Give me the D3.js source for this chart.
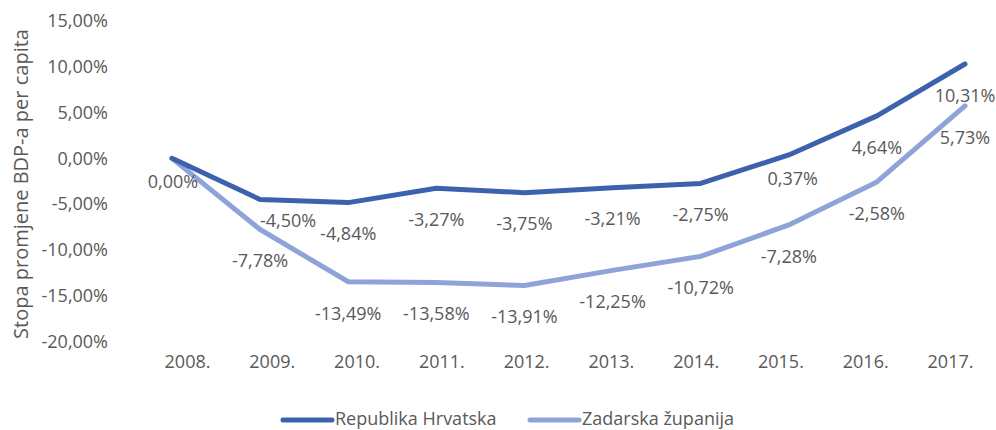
<!DOCTYPE html>
<html>
<head>
<meta charset="utf-8">
<script src="https://cdn.jsdelivr.net/npm/d3@7"></script>
<style>
  body { margin: 0; background: #fff; }
  text { font-family: "Open Sans", sans-serif; fill: #595959; }
</style>
</head>
<body>
<div id="chart"></div>
<script>
// data
const years = ["2008.", "2009.", "2010.", "2011.", "2012.", "2013.", "2014.", "2015.", "2016.", "2017."];
const hrvatska = [0.0, -4.50, -4.84, -3.27, -3.75, -3.21, -2.75, 0.37, 4.64, 10.31];
const zadarska = [0.0, -7.78, -13.49, -13.58, -13.91, -12.25, -10.72, -7.28, -2.58, 5.73];
const yTicks = [-20, -15, -10, -5, 0, 5, 10, 15];
const seriesNames = ["Republika Hrvatska", "Zadarska županija"];

// label nudges (dx, dy) for labels that sit off the default spot
const nudgeHr = [[1, -8], [28, -10], [0, 0], [0, 0], [0, 0], [0, 0], [0, 0], [4, -8], [0, 0], [0, 0]];

const width = 996, height = 430;
const colors = ["#3d62ad", "#8ea3d7"];

const hr = d3.formatLocale({decimal: ",", thousands: ".", grouping: [3], currency: ["", ""], minus: "-"});
const fmt = v => hr.format(".2f")(v) + "%";

let svg = d3.select("#chart").append("svg")
    .attr("width", width)
    .attr("height", height);

let x = d3.scalePoint().domain(years).range([172, 965]);
let xLab = d3.scalePoint().domain(years).range([187, 950]);
let y = d3.scaleLinear().domain([-20, 15]).range([341.3, 21.1]);

// y axis
let yAxis = svg.append("g")
    .attr("transform", "translate(108,0)")
    .call(d3.axisLeft(y).tickValues(yTicks).tickSize(0).tickPadding(0).tickFormat(d => fmt(d)));
yAxis.select(".domain").remove();
yAxis.selectAll("text").attr("font-size", 18).style("font-family", "Open Sans").attr("fill", "#595959");

// x axis
let xAxis = svg.append("g")
    .attr("transform", "translate(0,362)")
    .call(d3.axisBottom(xLab).tickSize(0).tickPadding(0));
xAxis.select(".domain").remove();
xAxis.selectAll("text").attr("font-size", 18).attr("dy", "0.35em").style("font-family", "Open Sans").attr("fill", "#595959");

// y title
svg.append("text")
    .attr("transform", "translate(21,184) rotate(-90)")
    .attr("text-anchor", "middle")
    .attr("dy", "0.35em")
    .attr("font-size", 20)
    .text("Stopa promjene BDP-a per capita");

let line = d3.line()
    .x((d, i) => x(years[i]))
    .y(d => y(d));

[zadarska, hrvatska].forEach((vals, k) => {
    svg.append("path")
        .datum(vals)
        .attr("d", line)
        .attr("fill", "none")
        .attr("stroke", k == 0 ? colors[1] : colors[0])
        .attr("stroke-width", 5)
        .attr("stroke-linejoin", "round")
        .attr("stroke-linecap", "round");
});

// data labels (from = first index to label)
function labels(vals, nudge, from) {
    svg.append("g")
        .selectAll("text")
        .data(vals.map((v, i) => ({v: v, i: i})).filter(d => d.i >= from))
        .enter()
        .append("text")
        .attr("x", d => x(years[d.i]) + (nudge ? nudge[d.i][0] : 0))
        .attr("y", d => y(d.v) + 31.5 + (nudge ? nudge[d.i][1] : 0))
        .attr("dy", "0.35em")
        .attr("text-anchor", "middle")
        .attr("font-size", 18)
        .text(d => fmt(d.v));
}
labels(hrvatska, nudgeHr, 0);
// 2008 shares 0,00% with hrvatska
labels(zadarska, null, 1);

// legend
let legend = svg.append("g");
let lx = [283, 530];
seriesNames.forEach((name, i) => {
    legend.append("line")
        .attr("x1", lx[i]).attr("x2", lx[i] + 49)
        .attr("y1", 420).attr("y2", 420)
        .attr("stroke", colors[i])
        .attr("stroke-width", 5)
        .attr("stroke-linecap", "round");
    legend.append("text")
        .attr("x", lx[i] + 52)
        .attr("y", 418.5)
        .attr("dy", "0.35em")
        .attr("font-size", 18)
        .text(name);
});
</script>
</body>
</html>
